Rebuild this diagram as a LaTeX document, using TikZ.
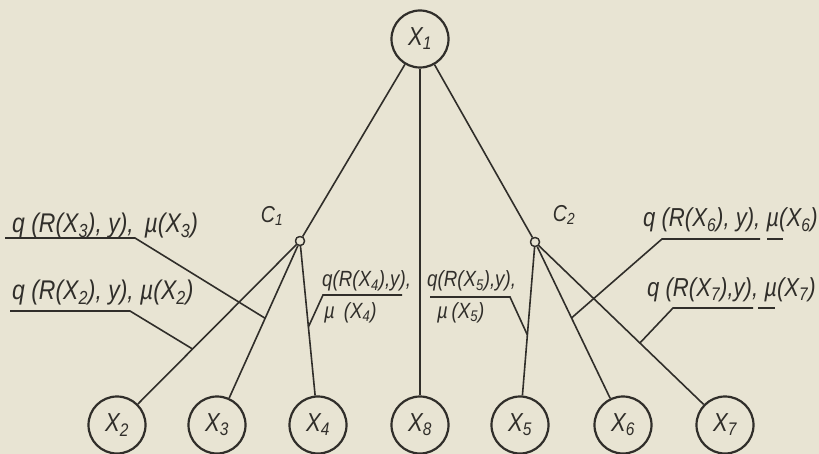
\documentclass[tikz,border=0pt]{standalone}
\usepackage{fontspec}
\setmainfont{Liberation Sans}[FakeStretch=0.85]
\usetikzlibrary{calc}
\definecolor{paper}{RGB}{232,228,211}
\definecolor{ink}{RGB}{48,46,42}
\newcommand\Xs[1]{X\textsubscript{#1}}
\begin{document}
\begin{tikzpicture}[x=1pt,y=-1pt,
  xnode/.style={circle, draw=ink, line width=2.2pt, minimum size=57pt, inner sep=0pt,
    text=ink, font=\fontsize{26}{26}\selectfont\itshape},
  cnode/.style={circle, draw=ink, line width=1.3pt, minimum size=9pt, inner sep=0pt, fill=paper},
  lab/.style={anchor=base west, inner sep=0pt, text=ink, font=\fontsize{27}{28}\selectfont\itshape},
  rlab/.style={lab, font=\fontsize{26}{28}\selectfont\itshape},
  clab/.style={lab, font=\fontsize{22}{24}\selectfont\itshape},
  ctag/.style={inner sep=0pt, text=ink, font=\fontsize{23}{24}\selectfont\itshape},
  wire/.style={draw=ink, line width=1.6pt}]
\fill[paper] (0,0) rectangle (819,454);
\useasboundingbox (0,0) rectangle (819,454);

% nodes
\node[xnode] (x1) at (420,39) {\Xs{1}};
\node[xnode] (x2) at (117,425) {\Xs{2}};
\node[xnode] (x3) at (217,425) {\Xs{3}};
\node[xnode] (x4) at (318,425) {\Xs{4}};
\node[xnode] (x8) at (420,425) {\Xs{8}};
\node[xnode] (x5) at (520,425) {\Xs{5}};
\node[xnode] (x6) at (623,425) {\Xs{6}};
\node[xnode] (x7) at (725,425) {\Xs{7}};
\node[cnode] (c1) at (300,241) {};
\node[cnode] (c2) at (535,242) {};
\node[ctag] (t1) at (272,216) {C\textsubscript{1}};
\node[ctag] (t2) at (564,215) {C\textsubscript{2}};

% connectors
\draw[wire] (x1) -- (c1);
\draw[wire] (x1) -- (x8);
\draw[wire] (x1) -- (c2);
\draw[wire] (c1) -- (x2);
\draw[wire] (c1) -- (x3);
\draw[wire] (c1) -- (x4);
\draw[wire] (c2) -- (x5);
\draw[wire] (c2) -- (x6);
\draw[wire] (c2) -- (x7);
\node[cnode] at (c1) {};
\node[cnode] at (c2) {};

% labels
\node[lab] (l3) at (12,233) {q (R(\Xs{3}), y),\, \textmu(\Xs{3})};
\node[lab] (l2) at (12,300) {q (R(\Xs{2}), y), \textmu(\Xs{2})};
\node[clab] (l4a) at (322,287) {q(R(\Xs{4}),y),};
\node[clab] (l4b) at (324,318) {\textmu\ \,(\Xs{4})};
\node[clab] (l5a) at (427,287) {q(R(\Xs{5}),y),};
\node[clab] (l5b) at (437,318) {\textmu\,(\Xs{5})};
\node[rlab] (l6) at (643,227) {q (R(\Xs{6}), y), \textmu(\Xs{6})};
\node[rlab] (l7) at (647,297) {q (R(\Xs{7}),y), \textmu(\Xs{7})};

% leader points
\coordinate (p2) at ($(c1.center)!0.587!(x2.center)$);
\coordinate (p3) at ($(c1.center)!0.42!(x3.center)$);
\coordinate (p4) at ($(c1.center)!0.467!(x4.center)$);
\coordinate (p5) at ($(c2.center)!0.508!(x5.center)$);
\coordinate (p6) at ($(c2.center)!0.415!(x6.center)$);
\coordinate (p7) at ($(c2.center)!0.552!(x7.center)$);

\coordinate (u3a) at (5,238);   \coordinate (u3b) at (135,238);
\coordinate (u2a) at (10,311);  \coordinate (u2b) at (130,311);
\coordinate (u4a) at (402,295); \coordinate (u4b) at (323,295);
\coordinate (u5a) at (430,297); \coordinate (u5b) at (510,297);
\coordinate (u6a) at (760,239); \coordinate (u6b) at (662,239);
\coordinate (u7a) at (753,308); \coordinate (u7b) at (673,308);
\coordinate (m6a) at (767,239); \coordinate (m6b) at (783,239);
\coordinate (m7a) at (758,308); \coordinate (m7b) at (775,308);

\draw[wire] (u3a) -- (u3b) -- (p3);
\draw[wire] (u2a) -- (u2b) -- (p2);
\draw[wire] (u4a) -- (u4b) -- (p4);
\draw[wire] (u5a) -- (u5b) -- (p5);
\draw[wire] (u6a) -- (u6b) -- (p6);
\draw[wire] (u7a) -- (u7b) -- (p7);
\draw[wire] (m6a) -- (m6b);
\draw[wire] (m7a) -- (m7b);
\end{tikzpicture}
\end{document}
